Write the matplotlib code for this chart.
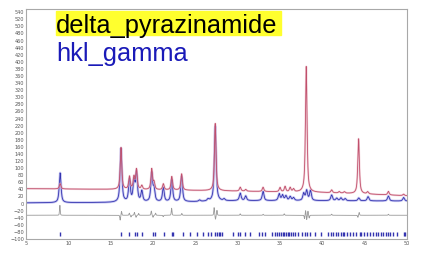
import numpy as np
import matplotlib.pyplot as plt
from matplotlib.patches import Rectangle

W, H = 424, 256

# 2-theta axis
two_theta = np.linspace(5, 50, 4500)

obs_bg_pos = [5, 15, 25, 30, 40, 45, 50]
obs_bg_val = [42, 40, 37, 35, 31, 27, 22]
obs_pos = [9.03, 16.22, 17.22, 17.75, 18.05, 18.68, 19.85, 20.12, 21.22, 22.22,
           23.38, 27.35, 30.30, 30.95, 33.00, 35.00, 35.60, 36.20, 36.60, 38.10,
           41.10, 42.00, 42.60, 44.28, 45.35, 47.80, 49.60]
obs_amp = [15, 118, 36, 34, 56, 11, 58, 20, 17, 38,
           46, 190, 11, 5, 12, 12, 15, 12, 8, 355,
           8, 4, 4, 155, 6, 10, 4]

# calculated pattern (blue)
calc_bg_pos = [5, 15, 25, 30, 40, 50]
calc_bg_val = [2, 3, 5, 8, 8, 7]
calc_pos = [9.03, 16.22, 17.22, 17.75, 18.05, 18.68, 19.85, 20.12, 21.22, 22.22,
            23.38, 25.50, 26.50, 27.35, 28.40, 30.30, 30.95, 33.00, 34.90, 35.30,
            35.70, 36.20, 36.60, 37.80, 38.15, 38.60, 41.10, 41.70, 42.20, 42.70,
            44.30, 45.40, 47.80, 49.60]
calc_amp = [84, 152, 62, 56, 80, 30, 80, 34, 40, 62,
            72, 4, 5, 212, 5, 21, 13, 26, 19, 15,
            13, 11, 8, 20, 28, 28, 16, 7, 8, 6,
            8, 12, 14, 10]

# difference curve (grey)
diff_base = -33
diff_pos = [9.00, 16.12, 16.28, 17.20, 17.40, 17.80, 18.00, 18.30, 19.80, 20.00,
            20.30, 21.20, 22.20, 23.40, 27.22, 27.38, 27.55, 30.30, 33.00, 35.50,
            37.90, 38.02, 38.15, 38.30, 38.45, 41.10, 44.20, 44.35, 47.80]
diff_amp = [28, -14, 11, 6, -5, 8, -6, 5, 12, -6,
            6, -4, 20, 5, 22, -12, 14, 4, 3, 4,
            -10, 14, -13, 12, -8, 3, -6, 8, 3]

# reflection tick marks
tick_pos = [9.05, 16.25, 17.2, 17.85, 18.1, 18.75, 19.95, 20.25, 21.35, 22.25,
            22.4, 23.5, 24.4, 25.2, 25.9, 26.45, 26.8, 27.35, 27.55, 27.75,
            27.95, 28.15, 29.5, 30.0, 30.3, 30.9, 31.4, 32.5, 32.9, 33.2,
            34.1, 34.4, 34.7, 34.9, 35.1, 35.3, 35.5, 35.7, 35.9, 36.1,
            36.3, 36.5, 36.8, 37.1, 37.6, 37.9, 38.2, 38.5, 39.1, 39.8,
            40.7, 41.0, 41.3, 41.6, 41.9, 42.2, 42.4, 42.6, 42.9, 43.3,
            43.6, 44.0, 44.4, 44.6, 44.9, 45.3, 45.6, 46.0, 46.3, 46.6,
            46.9, 47.2, 47.5, 47.8, 48.0, 48.4, 48.8, 49.6, 49.8]
tick_level = -86


def profile(x, pos, amp, fwhm, eta=0.75):
    y = np.zeros_like(x)
    hw = fwhm / 2
    for p, a in zip(pos, amp):
        u = (x - p) / hw
        y += a * (eta / (1 + u ** 2) + (1 - eta) * np.exp(-np.log(2) * u ** 2))
    return y


obs = np.interp(two_theta, obs_bg_pos, obs_bg_val) + profile(two_theta, obs_pos, obs_amp, 0.22)
calc = np.interp(two_theta, calc_bg_pos, calc_bg_val) + profile(two_theta, calc_pos, calc_amp, 0.25)
diff = diff_base + profile(two_theta, diff_pos, diff_amp, 0.1, eta=0.3)

fig = plt.figure(figsize=(W / 100, H / 100), dpi=100)
ax = fig.add_axes([26 / W, 1 - 239 / H, (407 - 26) / W, (239 - 9) / H])

ax.plot(two_theta, calc, color='#a4a4ea', lw=1.8, alpha=0.6)
ax.plot(two_theta, calc, color='#3434b0', lw=0.6)
ax.plot(two_theta, obs, color='#ecb4c2', lw=1.5, alpha=0.55)
ax.plot(two_theta, obs, color='#c0506c', lw=0.6)
ax.plot(two_theta, diff, color='#9a9a9a', lw=0.6)
ax.plot(tick_pos, [tick_level] * len(tick_pos), ls='none', marker='|',
        ms=2.2, mew=1.0, color='#3434b0')

ax.set_xlim(5, 50)
ax.set_ylim(-100, 549)
ax.set_xticks(range(5, 51, 5))
ax.set_yticks(range(-100, 541, 20))
ax.tick_params(labelsize=3.6, length=0, pad=1.5, colors='#555555')
for s in ax.spines.values():
    s.set_color('#a8a8a8')
    s.set_linewidth(0.8)

# labels in the upper-left corner
fig.patches.append(Rectangle((56 / W, 1 - 35 / H), (281 - 56) / W, 24 / H,
                             transform=fig.transFigure, color='#ffff2e', zorder=5))
fig.text(56 / W, 1 - 32.5 / H, 'delta_pyrazinamide', fontsize=18.3,
         family='Liberation Sans', color='black', va='baseline', zorder=6)
fig.text(56 / W, 1 - 61 / H, 'hkl_gamma', fontsize=18.3,
         family='Liberation Sans', color='#1a1ab8', va='baseline', zorder=6)

plt.savefig('out.png', dpi=100)
